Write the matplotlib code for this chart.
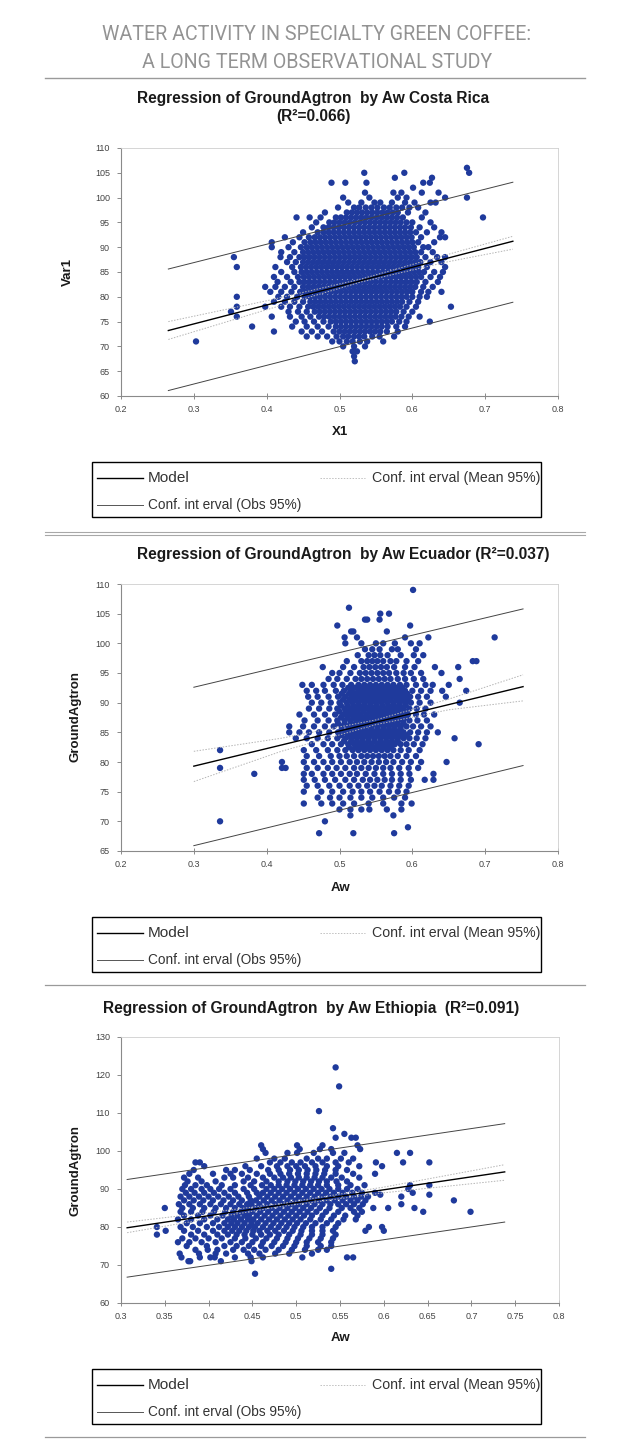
import matplotlib
matplotlib.use("Agg")
import matplotlib.pyplot as plt
from matplotlib.patches import Rectangle
from matplotlib.lines import Line2D

W, H = 629, 1455

# ---- data ----
# one line per GroundAgtron level: "agtron: Aw values in thousandths"
costa_rows = """
106: 675
105: 534 589 678
104: 576 627
103: 489 508 537 615 624
102: 601
101: 535 574 585 613 636
100: 505 541 580 592 645 675
99: 512 530 548 556 572 590 603 625 632
98: 498 520 527 536 544 552 561 569 578 586 596 608
97: 480 510 517 524 531 538 545 552 559 566 573 580 594 618
96: 441 459 474 495 502 509 516 523 530 537 544 551 558 565 572 579 587 613 697
95: 468 486 493 500 507 514 521 528 535 542 549 556 563 570 577 584 592 600 625
94: 462 478 485 492 499 506 513 520 527 534 541 548 555 562 569 576 583 590 598 610 630
93: 450 470 478 485 492 499 506 513 520 527 534 541 548 555 562 569 576 583 590 597 605 620 640
92: 425 445 458 466 473 480 487 494 501 508 515 522 529 536 543 550 557 564 571 578 585 592 599 612 638 645
91: 407 436 452 460 467 474 481 488 495 502 509 516 523 530 537 544 551 558 565 572 579 586 593 600 608 630
90: 407 430 447 455 462 469 476 483 490 497 504 511 518 525 532 539 546 553 560 567 574 581 588 595 602 615 622
89: 420 438 450 457 464 471 478 485 492 499 506 513 520 527 534 541 548 555 562 569 576 583 590 597 604 612 628
88: 355 419 432 445 452 459 466 473 480 487 494 501 508 515 522 529 536 543 550 557 564 571 578 585 592 599 606 618 634 645
87: 428 440 450 457 464 471 478 485 492 499 506 513 520 527 534 541 548 555 562 569 576 583 590 597 604 611 625 640
86: 359 412 435 447 454 461 468 475 482 489 496 503 510 517 524 531 538 545 552 559 566 573 580 587 594 601 608 620 645
85: 420 438 448 455 462 469 476 483 490 497 504 511 518 525 532 539 546 553 560 567 574 581 588 595 602 609 616 630 642
84: 410 428 443 451 458 465 472 479 486 493 500 507 514 521 528 535 542 549 556 563 570 577 584 591 598 605 612 625 638
83: 415 433 445 452 459 466 473 480 487 494 501 508 515 522 529 536 543 550 557 564 571 578 585 592 599 606 618 635
82: 398 412 425 438 450 457 464 471 478 485 492 499 506 513 520 527 534 541 548 555 562 569 576 583 590 597 604 615 628
81: 405 420 434 446 453 460 467 474 481 488 495 502 509 516 523 530 537 544 551 558 565 572 579 586 593 600 612 622 640
80: 359 416 428 442 452 459 466 473 480 487 494 501 508 515 522 529 536 543 550 557 564 571 578 585 592 600 610 620
79: 410 425 438 450 460 467 474 481 488 495 502 509 516 523 530 537 544 551 558 565 572 579 586 596 608
78: 359 398 420 432 445 457 464 471 478 485 492 499 506 513 520 527 534 541 548 555 562 569 576 583 592 605 653
77: 351 430 443 455 466 473 480 487 494 501 508 515 522 529 536 543 550 557 564 571 578 588 600
76: 359 407 432 448 460 472 479 486 493 500 507 514 521 528 535 542 549 556 563 570 577 585 595 610
75: 440 452 465 478 488 495 502 509 516 523 530 537 544 551 558 565 572 582 592 624
74: 380 435 455 470 485 495 502 509 516 523 530 537 544 551 558 566 578 590
73: 410 448 462 476 492 500 507 514 521 528 535 542 549 556 565 580
72: 455 470 483 496 505 512 520 527 534 545 555 575
71: 303 490 500 510 518 528 538 560
70: 505 520 535
69: 518 524
68: 520
67: 521
"""

ecuador_rows = """
109: 601
106: 513
105: 556 568
104: 535 538 555
103: 497 597
102: 516 519 565
101: 507 524 590 622 713
100: 508 530 550 560 576 598 610
99: 535 545 555 572 580 605
98: 525 540 548 556 566 584 602 615
97: 510 530 538 545 552 560 570 578 592 608 683 688
96: 477 505 520 533 541 549 557 565 575 590 603 631 663
95: 490 500 515 528 536 544 552 560 568 578 588 598 612 640
94: 485 497 510 522 530 538 546 554 562 570 580 590 602 615 665
93: 449 462 478 492 504 516 526 534 542 550 558 566 574 583 592 605 618 628 650
92.5: 512 521 530 538 546 554 562 570 578 586
92: 455 468 480 495 506 516 526 534 542 550 558 566 574 582 590 600 612 625 641 674
91.5: 503 513 521 529 537 545 553 561 569 577 585 593
91: 457 470 485 498 508 517 525 533 541 549 557 565 573 581 589 597 608 620 646
90.5: 505 514 522 530 538 546 554 562 570 578 586 594
90: 462 475 488 500 510 518 526 534 542 550 558 566 574 582 590 598 610 625 665
89.5: 502 511 519 527 535 543 551 559 567 575 583 591
89: 458 472 486 497 507 515 523 531 539 547 555 563 571 579 587 596 606 618
88.5: 500 509 517 525 533 541 549 557 565 573 581 590
88: 445 465 480 494 505 513 521 529 537 545 553 561 569 577 585 594 605 616 630
87.5: 502 511 519 527 535 543 551 559 567 575 583 591
87: 452 470 485 497 507 515 523 531 539 547 555 563 571 579 587 596 607 620
86.5: 498 507 516 524 532 540 548 556 564 572 580 588
86: 431 450 465 480 492 503 512 520 528 536 544 552 560 568 576 584 592 601 612 625
85.5: 503 512 520 528 536 544 552 560 568 576 584
85: 431 445 458 472 486 498 508 516 524 532 540 548 556 564 572 580 588 597 608 620 635
84.5: 502 512 520 528 536 544 552 560 568 576 584 592
84: 440 455 470 484 497 508 516 524 532 540 548 556 564 572 580 588 596 606 618 658
83.5: 506 516 524 532 540 548 556 564 572 580
83: 462 478 490 502 512 520 528 536 544 552 560 568 576 584 592 602 614 691
82.5: 513 522 530 538 546 554 562 570
82: 336 451 468 484 497 508 518 526 534 542 550 558 566 574 584 595 610
81: 455 472 488 500 510 520 530 538 546 554 562 570 580 592 605
80: 421 451 465 478 490 502 514 524 534 544 554 564 574 586 598 612 647
79: 336 421 426 455 470 484 496 508 520 530 540 550 560 570 582 595 608
78: 383 451 462 478 490 502 514 524 536 548 560 572 584 596 629
77: 451 466 480 494 508 520 532 542 552 562 572 584 598 617 629
76: 455 470 486 500 514 526 538 548 558 570 582 595
75: 451 475 490 505 518 530 542 555 568 580 592
74: 470 487 500 515 530 545 560 575 590
73: 451 475 490 505 520 540 560 585 599
72: 500 515 530 541 565 585
71: 515 574
70: 336 480
69: 594
68: 472 519 575
"""

ethiopia_rows = """
122: 545
117: 549
110.5: 526
106: 542
104.5: 555
103.5: 545 563 568
101.5: 460 501 530 570
100.5: 462 504 527 540 573
99.5: 465 490 501 520 542 555 615 630
98: 455 475 487 512 525 535 551 565
97: 385 390 470 482 495 505 518 530 545 560 591 622 652
96: 395 442 460 478 490 500 510 522 535 548 572 598
95: 383 420 430 447 468 480 493 503 513 523 533 545 558
94: 378 405 425 438 455 470 482 492 502 512 522 532 545 565 590
93: 372 388 418 428 445 462 475 485 494 503 512 521 530 540 552 572
92: 376 392 408 440 452 466 480 490 499 508 517 526 535 546 558
91: 373 385 398 415 430 448 461 471 480 489 498 507 516 525 535 548 562 578 630 652
90: 370 380 392 402 412 425 440 452 466 475 484 493 502 511 520 529 538 548 558 570 628
89: 374 384 395 406 418 430 444 455 462 471 480 489 498 507 516 525 534 543 553 564 575 590 633
88.5: 596 652
88: 368 378 389 400 411 423 434 446 458 467 476 485 494 503 512 521 530 539 548 557 566 574 582 620
87: 372 383 394 405 417 428 438 448 454 463 472 481 490 499 508 517 526 535 544 553 562 570 579 680
86: 366 378 390 402 414 425 435 444 449 458 467 476 485 494 503 512 521 530 539 548 557 566 576 620
85: 350 370 382 395 408 420 430 439 445 454 463 472 481 490 499 508 517 527 538 552 562 572 588 605 635
84: 368 380 393 406 419 428 437 442 450 459 468 477 486 495 504 513 523 534 548 566 575 645 699
83: 372 388 402 416 426 433 441 446 455 464 473 482 491 500 509 518 530 543 556 570
82: 365 380 395 410 422 429 437 445 451 460 469 478 487 496 505 516 528 540 554 568
81: 375 390 405 418 426 433 441 449 456 465 474 483 492 501 511 522 535 548
80: 341 368 382 398 412 422 430 438 446 453 462 471 480 489 498 508 518 530 545 583 598
79: 351 372 388 405 418 427 435 443 451 458 467 476 486 496 506 518 530 542 579 600
78: 341 380 395 410 422 432 441 450 460 470 480 492 505 518 530 545
77: 370 385 400 415 430 442 454 466 478 490 502 515 528 542
76: 365 378 392 408 425 438 450 462 475 488 500 512 525 540
75: 375 398 418 432 446 460 472 485 498 512 528 540
74: 385 399 410 428 440 452 465 480 495 510 525 535
73: 367 389 408 420 445 458 476 492 518
72: 369 390 402 407 430 448 462 507 558 565
71: 377 379 414 449
69: 540
67.7: 453
"""

costa_line_x = [0.265, 0.738]
costa_model = [73.2, 91.2]
costa_obs_hi = [85.6, 103.1]
costa_obs_lo = [61.1, 78.9]
costa_band_x = [0.265, 0.40, 0.53, 0.65, 0.738]
costa_mean_hi = [75.0, 79.2, 83.6, 88.6, 92.2]
costa_mean_lo = [71.4, 77.4, 83.0, 87.1, 89.6]

ecuador_line_x = [0.30, 0.752]
ecuador_model = [79.3, 92.7]
ecuador_obs_hi = [92.6, 105.8]
ecuador_obs_lo = [65.9, 79.4]
ecuador_band_x = [0.30, 0.42, 0.55, 0.65, 0.752]
ecuador_mean_hi = [81.8, 84.0, 87.1, 90.6, 94.7]
ecuador_mean_lo = [76.7, 81.8, 86.3, 88.8, 90.3]

ethiopia_line_x = [0.307, 0.738]
ethiopia_model = [79.8, 94.5]
ethiopia_obs_hi = [92.5, 107.2]
ethiopia_obs_lo = [66.8, 81.3]
ethiopia_band_x = [0.307, 0.40, 0.48, 0.60, 0.738]
ethiopia_mean_hi = [81.3, 83.8, 86.1, 90.5, 96.4]
ethiopia_mean_lo = [78.5, 82.2, 85.3, 89.0, 92.3]

# axis ticks
x_ticks_a = [0.2, 0.3, 0.4, 0.5, 0.6, 0.7, 0.8]
x_labels_a = ["0.2", "0.3", "0.4", "0.5", "0.6", "0.7", "0.8"]
x_ticks_c = [0.3, 0.35, 0.4, 0.45, 0.5, 0.55, 0.6, 0.65, 0.7, 0.75, 0.8]
x_labels_c = ["0.3", "0.35", "0.4", "0.45", "0.5", "0.55", "0.6", "0.65", "0.7", "0.75", "0.8"]
y_ticks_1 = [60, 65, 70, 75, 80, 85, 90, 95, 100, 105, 110]
y_ticks_2 = [65, 70, 75, 80, 85, 90, 95, 100, 105, 110]
y_ticks_3 = [60, 70, 80, 90, 100, 110, 120, 130]


def parse_rows(txt):
    xs, ys = [], []
    for line in txt.strip().splitlines():
        yv, vals = line.split(":")
        for v in vals.split():
            xs.append(int(v) / 1000.0)
            ys.append(float(yv))
    return xs, ys


fig = plt.figure(figsize=(W / 100, H / 100), dpi=100)
fig.patch.set_facecolor("white")
rend = fig.canvas.get_renderer()

NARROW = ["Liberation Sans Narrow", "Liberation Sans", "DejaVu Sans"]
SANS = ["Liberation Sans", "DejaVu Sans"]
DOT = "#1f3a9c"


def fx(x):
    return x / W


def fy(y):
    return 1 - y / H


def ftext(x, y, s, width=None, **kw):
    t = fig.text(fx(x), fy(y), s, **kw)
    if width:
        w = t.get_window_extent(renderer=rend).width
        t.set_fontsize(t.get_fontsize() * width / w)
    return t


def hline(x0, x1, y, **kw):
    fig.add_artist(Line2D([fx(x0), fx(x1)], [fy(y), fy(y)], transform=fig.transFigure, **kw))


def make_panel(box, rows, line_x, model, obs_hi, obs_lo, band_x, mean_hi, mean_lo,
               xlim, ylim, xt, xl, yt):
    left, top, right, bottom = box
    ax = fig.add_axes([fx(left), fy(bottom), (right - left) / W, (bottom - top) / H])
    xs, ys = parse_rows(rows)
    ax.scatter(xs, ys, s=21, color=DOT, edgecolors="none", zorder=3)
    ax.plot(line_x, model, color="black", lw=1.0, zorder=4)
    ax.plot(line_x, obs_hi, color="#444444", lw=0.7, zorder=4)
    ax.plot(line_x, obs_lo, color="#444444", lw=0.7, zorder=4)
    ax.plot(band_x, mean_hi, color="#b5b5b5", lw=0.7, ls=(0, (1.5, 1.5)), zorder=4)
    ax.plot(band_x, mean_lo, color="#b5b5b5", lw=0.7, ls=(0, (1.5, 1.5)), zorder=4)
    ax.set_xlim(*xlim)
    ax.set_ylim(*ylim)
    ax.set_xticks(xt)
    ax.set_xticklabels(xl)
    ax.set_yticks(yt)
    ax.set_yticklabels([str(v) for v in yt])
    for sp in ["top", "right"]:
        ax.spines[sp].set_color("#cfcfcf")
        ax.spines[sp].set_linewidth(0.6)
    for sp in ["left", "bottom"]:
        ax.spines[sp].set_color("#8a8a8a")
        ax.spines[sp].set_linewidth(0.8)
    ax.tick_params(axis="x", direction="inout", length=5, width=0.7, color="#8a8a8a",
                   pad=4, labelsize=6.5, labelcolor="#444444")
    ax.tick_params(axis="y", direction="out", length=3, width=0.7, color="#8a8a8a",
                   pad=5, labelsize=6.5, labelcolor="#444444")
    for lab in ax.get_xticklabels() + ax.get_yticklabels():
        lab.set_family(SANS)
    return ax


def legend_box(top):
    fig.add_artist(Rectangle((fx(92), fy(top + 55)), (541 - 92) / W, 55 / H,
                             transform=fig.transFigure, fill=False, ec="black", lw=1.0))
    r1, r2 = top + 16, top + 43
    fig.add_artist(Line2D([fx(97), fx(143)], [fy(r1)] * 2, transform=fig.transFigure,
                          color="black", lw=1.0))
    fig.add_artist(Line2D([fx(97), fx(143)], [fy(r2)] * 2, transform=fig.transFigure,
                          color="#555555", lw=0.7))
    fig.add_artist(Line2D([fx(320), fx(365)], [fy(r1)] * 2, transform=fig.transFigure,
                          color="#c0c0c0", lw=0.7, ls=(0, (1.5, 1.5))))
    kw = dict(family=SANS, color="#333333", va="center", ha="left", fontsize=9)
    ftext(148, r1, "Model", width=42, **kw)
    ftext(372, r1, "Conf. int erval (Mean 95%)", width=168, **kw)
    ftext(148, r2, "Conf. int erval (Obs 95%)", width=154, **kw)


# ---- header ----
hdr = dict(family=["Roboto", "Lato", "DejaVu Sans"], fontweight="normal", color="#939393",
           ha="center", va="center", fontsize=14)
t1 = ftext(317, 35, "WATER ACTIVITY IN SPECIALTY GREEN COFFEE:", width=430, **hdr)
hdr["fontsize"] = t1.get_fontsize()
ftext(317, 62, "A LONG TERM OBSERVATIONAL STUDY", **hdr)
hline(45, 585, 77.5, color="#9a9a9a", lw=1.0)

ttl = dict(family=NARROW, fontweight="bold", color="#1a1a1a", ha="center", va="center", fontsize=10)
lab = dict(family=SANS, fontweight="bold", color="#1a1a1a", ha="center", va="center", fontsize=9.5)

# ---- panel 1: Costa Rica ----
tt = ftext(313, 99, "Regression of GroundAgtron  by Aw Costa Rica", width=354, **ttl)
ttl["fontsize"] = tt.get_fontsize()
ftext(313, 116, "(R²=0.066)", **ttl)
make_panel((121, 148, 558, 396), costa_rows, costa_line_x, costa_model, costa_obs_hi,
           costa_obs_lo, costa_band_x, costa_mean_hi, costa_mean_lo,
           (0.2, 0.8), (60, 110), x_ticks_a, x_labels_a, y_ticks_1)
ftext(68, 272, "Var1", rotation=90, **lab)
ftext(340, 432, "X1", **lab)
legend_box(462)
hline(45, 585, 531.5, color="#a8a8a8", lw=0.8)
hline(45, 585, 535, color="#a8a8a8", lw=0.8)

# ---- panel 2: Ecuador ----
ftext(343, 555, "Regression of GroundAgtron  by Aw Ecuador (R²=0.037)", **ttl)
make_panel((121, 584, 558, 851), ecuador_rows, ecuador_line_x, ecuador_model, ecuador_obs_hi,
           ecuador_obs_lo, ecuador_band_x, ecuador_mean_hi, ecuador_mean_lo,
           (0.2, 0.8), (65, 110), x_ticks_a, x_labels_a, y_ticks_2)
ftext(76, 717, "GroundAgtron", rotation=90, **lab)
ftext(340, 888, "Aw", **lab)
legend_box(917)
hline(45, 585, 985, color="#9a9a9a", lw=0.9)

# ---- panel 3: Ethiopia ----
ftext(311, 1008, "Regression of GroundAgtron  by Aw Ethiopia  (R²=0.091)", **ttl)
make_panel((121, 1037, 559, 1303), ethiopia_rows, ethiopia_line_x, ethiopia_model,
           ethiopia_obs_hi, ethiopia_obs_lo, ethiopia_band_x, ethiopia_mean_hi,
           ethiopia_mean_lo, (0.3, 0.8), (60, 130), x_ticks_c, x_labels_c, y_ticks_3)
ftext(76, 1170, "GroundAgtron", rotation=90, **lab)
ftext(340, 1338, "Aw", **lab)
legend_box(1369)
hline(45, 585, 1437, color="#9a9a9a", lw=0.9)

fig.savefig("out.png", dpi=100, facecolor="white")
